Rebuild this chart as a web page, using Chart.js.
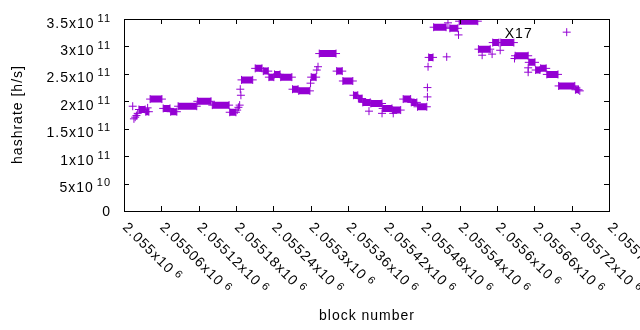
<!DOCTYPE html>
<html>
<head>
<meta charset="utf-8">
<script src="https://cdn.jsdelivr.net/npm/chart.js@4.4.1/dist/chart.umd.min.js"></script>
<style>
  html, body { margin: 0; padding: 0; background: #fff; }
  #wrap { width: 640px; height: 330px; }
</style>
</head>
<body>
<div id="wrap"><canvas id="c" width="640" height="330"></canvas></div>
<script>
/* Hashrate per block number, gnuplot-style "+" points.
   Long stretches of blocks share one estimate, so they are kept as runs
   (first block, last block, value); stray blocks are kept as single dots. */

const runStart = [
  2055024, 2055035, 2055042, 2055063, 2055075, 2055087, 2055118, 2055142, 2055170,
  2055189, 2055211, 2055224, 2055233, 2055242, 2055252, 2055271, 2055281, 2055301,
  2055314, 2055342, 2055352, 2055369, 2055377, 2055384, 2055397, 2055416, 2055432,
  2055449, 2055462, 2055472, 2055490, 2055498, 2055524, 2055539, 2055570, 2055593,
  2055606, 2055629, 2055651, 2055662, 2055670, 2055680, 2055699, 2055726
];
const runEnd = [
  2055034, 2055040, 2055061, 2055074, 2055085, 2055117, 2055140, 2055169, 2055180,
  2055207, 2055222, 2055232, 2055241, 2055251, 2055270, 2055280, 2055299, 2055309,
  2055341, 2055351, 2055368, 2055376, 2055383, 2055396, 2055415, 2055431, 2055445,
  2055461, 2055471, 2055487, 2055497, 2055518, 2055537, 2055569, 2055589, 2055603,
  2055627, 2055650, 2055661, 2055669, 2055679, 2055698, 2055725, 2055731
];
const runValue = [
  1.85e11, 1.81e11, 2.04e11, 1.87e11, 1.81e11, 1.91e11, 2.00e11, 1.93e11, 1.80e11,
  2.39e11, 2.60e11, 2.55e11, 2.44e11, 2.49e11, 2.44e11, 2.22e11, 2.19e11, 2.44e11,
  2.87e11, 2.55e11, 2.37e11, 2.11e11, 2.05e11, 1.98e11, 1.96e11, 1.87e11, 1.84e11,
  2.04e11, 1.98e11, 1.90e11, 2.80e11, 3.35e11, 3.33e11, 3.46e11, 2.95e11, 3.07e11,
  3.07e11, 2.83e11, 2.71e11, 2.57e11, 2.60e11, 2.49e11, 2.28e11, 2.21e11
];

const dotBlock = [
  2055014, 2055016, 2055018, 2055020, 2055022, 2055038, 2055182, 2055184, 2055186,
  2055187, 2055188, 2055300, 2055310, 2055312, 2055394, 2055415, 2055433, 2055488,
  2055488, 2055489, 2055519, 2055521, 2055538, 2055576, 2055592, 2055605, 2055628,
  2055650, 2055650, 2055712, 2055733
];
const dotValue = [
  1.91e11, 1.68e11, 1.71e11, 1.74e11, 1.78e11, 1.88e11, 1.84e11, 1.89e11, 1.93e11,
  2.22e11, 2.11e11, 2.33e11, 2.57e11, 2.63e11, 1.82e11, 1.78e11, 1.78e11, 2.08e11,
  2.25e11, 2.63e11, 2.81e11, 3.43e11, 3.21e11, 2.84e11, 2.86e11, 2.93e11, 2.78e11,
  2.61e11, 2.53e11, 3.26e11, 2.19e11
];

const xTickValues = [
  2055000, 2055060, 2055120, 2055180, 2055240, 2055300, 2055360,
  2055420, 2055480, 2055540, 2055600, 2055660, 2055720, 2055780
];
const xTickMain = [
  "2.055x10", "2.05506x10", "2.05512x10", "2.05518x10", "2.05524x10", "2.0553x10", "2.05536x10",
  "2.05542x10", "2.05548x10", "2.05554x10", "2.0556x10", "2.05566x10", "2.05572x10", "2.05578x10"
];
const xTickExp = ["6", "6", "6", "6", "6", "6", "6", "6", "6", "6", "6", "6", "6", "6"];

const yTickValues = [0, 5e10, 1e11, 1.5e11, 2e11, 2.5e11, 3e11, 3.5e11];
const yTickMain = ["0", "5x10", "1x10", "1.5x10", "2x10", "2.5x10", "3x10", "3.5x10"];
const yTickExp = ["", "10", "11", "11", "11", "11", "11", "11"];

const xTitle = "block number";
const yTitle = "hashrate [h/s]";
const noteText = "X17";
const noteBlock = 2055614;   // where the note sits, in data coordinates
const noteValue = 3.18e11;

const PURPLE = "#9400d3";
const INK = "#000000";
const FONT = '14px "Liberation Sans", Arial, sans-serif';
const SUP = '11px "Liberation Sans", Arial, sans-serif';
const GAP = 1;   // gnuplot's png text is spaced a little wider

// run -> two end points and a gap so each run becomes its own thick segment
const runPoints = [];
runStart.forEach((s, i) => {
  runPoints.push({ x: s, y: runValue[i] });
  runPoints.push({ x: runEnd[i], y: runValue[i] });
  runPoints.push({ x: runEnd[i], y: null });
});
const dotPoints = dotBlock.map((b, i) => ({ x: b, y: dotValue[i] }));

/* border, mirrored inward ticks and the enhanced-text labels (x10^n) */
const gnuplotFrame = {
  id: "gnuplotFrame",
  afterDraw(chart) {
    const ctx = chart.ctx;
    const a = chart.chartArea;
    const sx = chart.scales.x;
    const sy = chart.scales.y;
    ctx.save();
    ctx.strokeStyle = INK;
    ctx.lineWidth = 1;
    ctx.strokeRect(a.left + 0.5, a.top + 0.5, a.right - a.left, a.bottom - a.top);
    ctx.beginPath();
    yTickValues.forEach(v => {
      const py = Math.round(sy.getPixelForValue(v)) + 0.5;
      ctx.moveTo(a.left, py); ctx.lineTo(a.left + 5, py);
      ctx.moveTo(a.right, py); ctx.lineTo(a.right - 5, py);
    });
    xTickValues.forEach(v => {
      const px = Math.round(sx.getPixelForValue(v)) + 0.5;
      ctx.moveTo(px, a.bottom); ctx.lineTo(px, a.bottom - 5);
      ctx.moveTo(px, a.top); ctx.lineTo(px, a.top + 5);
    });
    ctx.stroke();

    ctx.fillStyle = INK;
    ctx.textAlign = "left";
    ctx.textBaseline = "alphabetic";
    ctx.letterSpacing = GAP + "px";

    // y tick labels, right edge at x=110
    const R = a.left - 14;
    yTickValues.forEach((v, i) => {
      const py = sy.getPixelForValue(v);
      ctx.font = FONT;
      const mainW = ctx.measureText(yTickMain[i]).width - GAP;
      if (!yTickExp[i]) {
        ctx.fillText(yTickMain[i], R - mainW, py + 5);
        return;
      }
      ctx.font = SUP;
      const expW = ctx.measureText(yTickExp[i]).width - GAP;
      const ex = R - expW;
      ctx.fillText(yTickExp[i], ex, py + 2.5);
      ctx.font = FONT;
      ctx.fillText(yTickMain[i], ex - 4 - mainW, py + 8.5);
    });

    // x tick labels, rotated -45 (down-right), starting at the tick
    xTickValues.forEach((v, i) => {
      const px = sx.getPixelForValue(v);
      ctx.save();
      ctx.translate(px - 2, a.bottom + 17);
      ctx.rotate(Math.PI / 4);
      ctx.font = FONT;
      ctx.fillText(xTickMain[i], 0, 0);
      const w = ctx.measureText(xTickMain[i]).width;
      ctx.font = SUP;
      ctx.fillText(xTickExp[i], w + 4, -4);
      ctx.restore();
    });

    // axis titles
    ctx.font = FONT;
    const tw = ctx.measureText(xTitle).width - GAP;
    ctx.fillText(xTitle, (a.left + a.right) / 2 - tw / 2, 320);
    ctx.save();
    ctx.translate(22, (a.top + a.bottom) / 2);
    ctx.rotate(-Math.PI / 2);
    const yw = ctx.measureText(yTitle).width - GAP;
    ctx.fillText(yTitle, -yw / 2, 0);
    ctx.restore();

    // note
    ctx.fillText(noteText, sx.getPixelForValue(noteBlock) - 1, sy.getPixelForValue(noteValue) + 1);
    ctx.restore();
  }
};

new Chart(document.getElementById("c"), {
  type: "line",
  data: {
    datasets: [
      {
        data: runPoints,
        borderColor: PURPLE,
        borderWidth: 7,
        borderCapStyle: "butt",
        spanGaps: false,
        tension: 0,
        fill: false,
        pointStyle: "cross",
        pointRadius: 4,
        pointBorderWidth: 1,
        pointBorderColor: PURPLE,
        pointBackgroundColor: PURPLE,
      },
      {
        data: dotPoints,
        showLine: false,
        pointStyle: "cross",
        pointRadius: 4,
        pointBorderWidth: 1,
        pointBorderColor: PURPLE,
        pointBackgroundColor: PURPLE,
      },
    ],
  },
  options: {
    responsive: false,
    animation: false,
    devicePixelRatio: 1,
    layout: { padding: { left: 124, right: 31, top: 19, bottom: 119 } },
    plugins: { legend: { display: false }, tooltip: { enabled: false } },
    scales: {
      x: { type: "linear", min: 2055000, max: 2055780, display: false },
      y: { type: "linear", min: 0, max: 3.5e11, display: false },
    },
  },
  plugins: [gnuplotFrame],
});
</script>
</body>
</html>
